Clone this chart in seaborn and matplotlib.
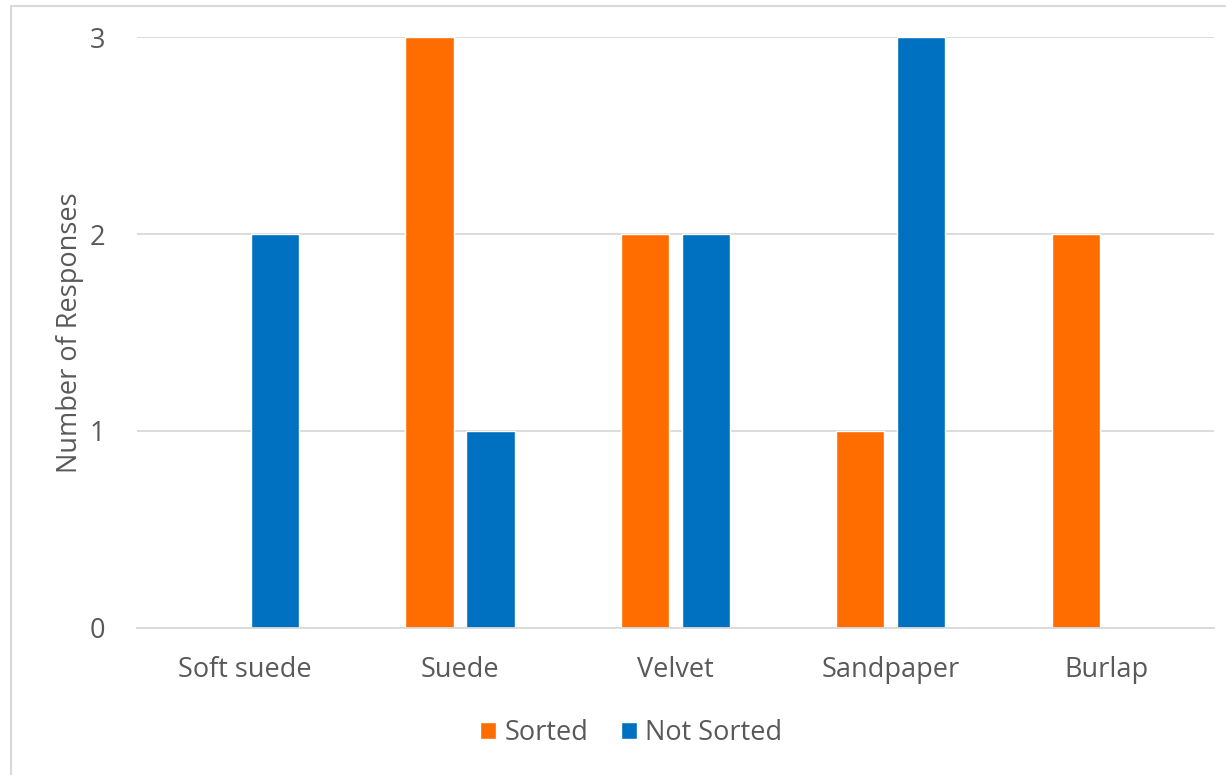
import pandas as pd
import matplotlib.pyplot as plt
import seaborn as sns
from matplotlib.patches import Rectangle

categories = ["Soft suede", "Suede", "Velvet", "Sandpaper", "Burlap"]
sorted_counts = [0, 3, 2, 1, 2]
not_sorted_counts = [2, 1, 2, 3, 0]
series_names = ["Sorted", "Not Sorted"]
colors = ["#FF6D00", "#0070C0"]

data = pd.DataFrame({
    "material": categories * 2,
    "group": [series_names[0]] * len(categories) + [series_names[1]] * len(categories),
    "count": sorted_counts + not_sorted_counts,
})

sns.set_style("white")
plt.rcParams["font.family"] = ["Open Sans", "DejaVu Sans"]
text_color = "#595959"
fs = 19.5

fig = plt.figure(figsize=(12.26, 7.75), dpi=100)
ax = fig.add_axes([0.1117, 0.19, 0.8785, 0.762])

sns.barplot(
    data=data, x="material", y="count", hue="group",
    palette=colors, width=0.566, gap=0.21, ax=ax, legend=True,
    saturation=1,
)

ax.set_ylim(0, 3)
ax.set_xlim(-0.5, len(categories) - 0.5)
ax.set_yticks([0, 1, 2, 3])
ax.yaxis.grid(True, color="#D9D9D9", linewidth=1.3)
ax.set_axisbelow(True)
for side in ["top", "right", "left"]:
    ax.spines[side].set_visible(False)
ax.spines["bottom"].set_color("#D9D9D9")
ax.spines["bottom"].set_linewidth(1.3)
ax.tick_params(axis="both", length=0, labelsize=fs, colors=text_color)
ax.tick_params(axis="y", pad=23)
ax.tick_params(axis="x", pad=20)
ax.set_xlabel("")
ax.set_ylabel("Number of Responses", fontsize=fs, color=text_color, labelpad=4)

handles, labels = ax.get_legend_handles_labels()
ax.legend(
    handles, labels, loc="center", bbox_to_anchor=(0.459, -0.178),
    ncol=2, frameon=False, fontsize=fs, labelcolor=text_color,
    handlelength=0.6, handleheight=0.6, handletextpad=0.3, columnspacing=1.2,
)

fig.patches.append(Rectangle((0.009, -0.01), 1.2, 1.002, transform=fig.transFigure,
                             fill=False, edgecolor="#D9D9D9", linewidth=1.5))

fig.savefig("out.png", dpi=100)
